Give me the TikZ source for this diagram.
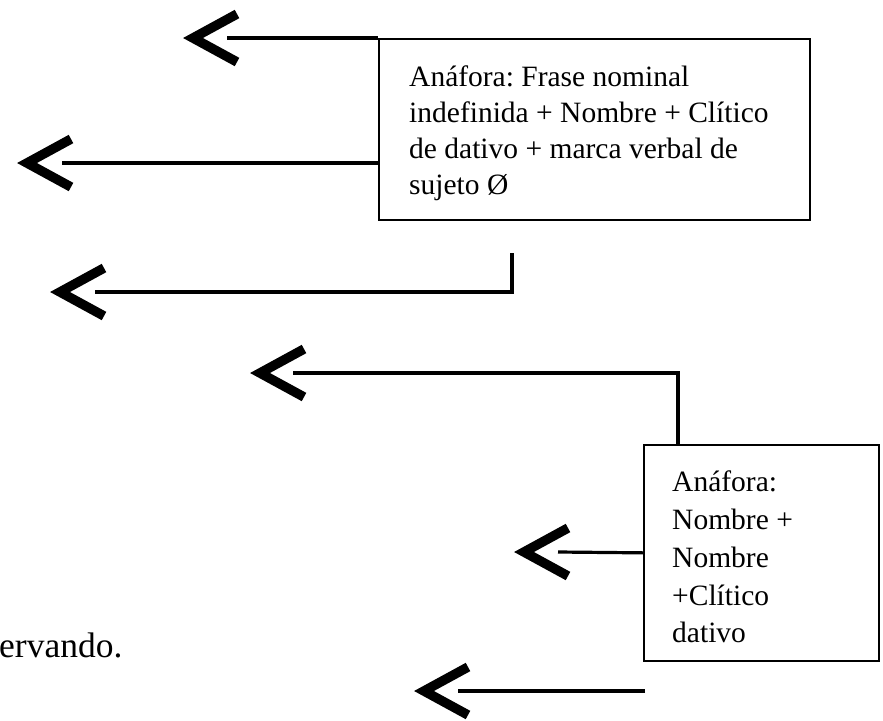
\documentclass[tikz,border=0pt]{standalone}
\usepackage{fontspec}
\setmainfont{Liberation Serif}
\usetikzlibrary{calc}
\frenchspacing
\begin{document}
\begin{tikzpicture}[x=1pt,y=-1pt,
  box/.style={draw, line width=1.7pt, rectangle, inner sep=0pt, anchor=north west},
  boxtext/.style={inner sep=0pt, anchor=north west, align=left},
  link/.style={line width=3.2pt},
  chevron/.style={line width=9.5pt, line join=miter, line cap=butt},
  chev/.pic={\draw[chevron] (44,-24) -- (0,0) -- (44,24);}
]
\useasboundingbox (0,0) rectangle (883,720);

% boxes
\node[box, minimum width=431pt, minimum height=181pt] (box1) at (378,38) {};
\node[boxtext, font=\fontsize{29.5}{36}\selectfont] (t1) at (409,66)
  {Anáfora: Frase nominal\\indefinida + Nombre + Clítico\\de dativo + marca verbal de\\sujeto Ø};

\node[box, minimum width=235pt, minimum height=216pt] (box2) at (643,444) {};
\node[boxtext, font=\fontsize{29.5}{37.7}\selectfont] (t2) at (672,471)
  {Anáfora:\\Nombre +\\Nombre\\+Clítico\\dativo};

\node[inner sep=0pt, anchor=base west, font=\fontsize{35.5}{42}\selectfont] (tail) at (-1,657) {ervando.};

% connectors
\coordinate (e1) at (227,38);
\draw[link] (box1.north west) -- (e1);
\pic at (193,38) {chev};

\coordinate (e2) at (62,163);
\draw[link] (box1.west |- e2) -- (e2);
\pic at (27,163) {chev};

\coordinate (s3) at (512,253);
\coordinate (e3) at (95,292);
\draw[link] (s3) |- (e3);
\pic at (60,292) {chev};

\coordinate (e4) at (293,373);
\draw[link] ($(box2.north west)+(35,0)$) |- (e4);
\pic at (260,373) {chev};

\coordinate (e5) at (558,552);
\draw[link] (box2.west) -- (e5);
\pic at (524,552) {chev};

\coordinate (s6) at (645,691);
\coordinate (e6) at (458,691);
\draw[link] (s6) -- (e6);
\pic at (424,691) {chev};
\end{tikzpicture}
\end{document}
